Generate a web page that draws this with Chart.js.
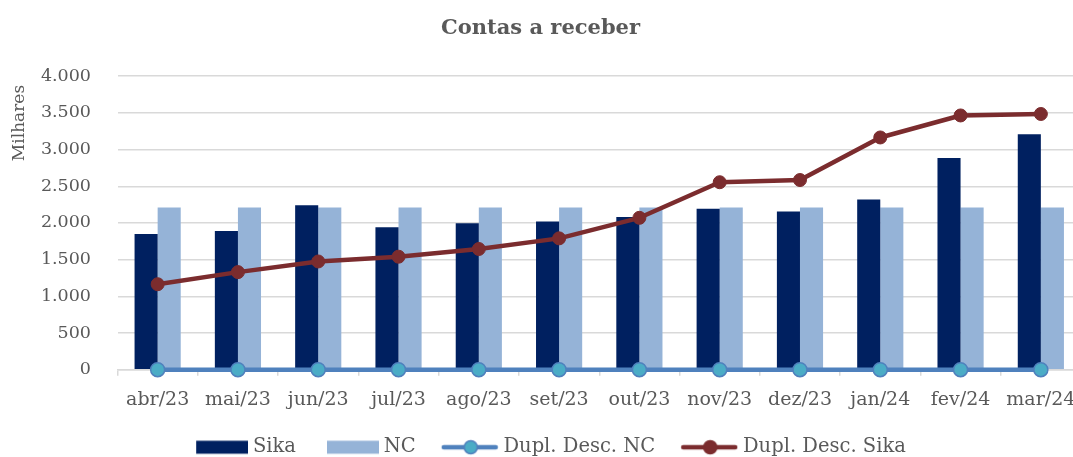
<!DOCTYPE html>
<html><head><meta charset="utf-8">
<script src="https://cdn.jsdelivr.net/npm/chart.js@4.4.1/dist/chart.umd.min.js"></script>
<style>html,body{margin:0;padding:0;overflow:hidden;background:#fff}</style>
</head><body>
<canvas id="c" width="1090" height="457" style="display:block"></canvas>
<script>
const categories = ['abr/23','mai/23','jun/23','jul/23','ago/23','set/23','out/23','nov/23','dez/23','jan/24','fev/24','mar/24'];
const sika = [1850,1890,2240,1940,1995,2020,2080,2195,2155,2320,2885,3210];
const nc = [2210,2210,2210,2210,2210,2210,2210,2210,2210,2210,2210,2210];
const duplDescNC = [0,0,0,0,0,0,0,0,0,0,0,0];
const duplDescSika = [1165,1330,1475,1540,1645,1790,2070,2555,2585,3165,3465,3485];
const yTickValues = [0,500,1000,1500,2000,2500,3000,3500,4000];
const seriesNames = ['Sika','NC','Dupl. Desc. NC','Dupl. Desc. Sika'];

const FONT = '"DejaVu Serif", serif';
const TXT = '#595959';
const C_SIKA = '#002060', C_NC = '#95b3d7', C_LNC = '#4f81bd', C_PNC = '#4bacc6', C_LSIKA = '#7b2c2e';

function fmt(v){ return String(v).replace(/\B(?=(\d{3})+(?!\d))/g,'.'); }

function legendImg(kind, color, fill){
  const W = 78, H = 18;
  const c = document.createElement('canvas'); c.width = W; c.height = H;
  const g = c.getContext('2d');
  if (kind === 'bar') {
    g.fillStyle = color; g.fillRect(W-52, (H-13)/2, 52, 13);
  } else {
    const x0 = W-57;
    g.strokeStyle = color; g.lineWidth = 4.5; g.lineCap = 'round';
    g.beginPath(); g.moveTo(x0+2, H/2); g.lineTo(W-3, H/2); g.stroke();
    g.beginPath(); g.arc(x0+29, H/2, 6.5, 0, Math.PI*2);
    g.fillStyle = fill; g.fill(); g.lineWidth = 1.5; g.strokeStyle = color; g.stroke();
  }
  return c;
}
const legendImgs = [
  legendImg('bar', C_SIKA), legendImg('bar', C_NC),
  legendImg('line', C_LNC, C_PNC), legendImg('line', C_LSIKA, C_LSIKA)
];

const milhares = {
  id: 'milhares',
  afterDraw(chart){
    const ctx = chart.ctx; ctx.save();
    ctx.translate(20, 123); ctx.rotate(-Math.PI/2);
    ctx.font = '17px ' + FONT; ctx.fillStyle = TXT;
    ctx.textAlign = 'center'; ctx.textBaseline = 'middle';
    ctx.fillText('Milhares', 0, 0); ctx.restore();
  }
};

new Chart(document.getElementById('c'), {
  data: {
    labels: categories,
    datasets: [
      { type:'bar', label: seriesNames[0], data: sika, backgroundColor: C_SIKA, order: 2,
        categoryPercentage: 0.575, barPercentage: 1 },
      { type:'bar', label: seriesNames[1], data: nc, backgroundColor: C_NC, order: 2,
        categoryPercentage: 0.575, barPercentage: 1 },
      { type:'line', label: seriesNames[2], data: duplDescNC, borderColor: C_LNC, borderWidth: 4.5,
        pointRadius: 7, pointBackgroundColor: C_PNC, pointBorderColor: C_LNC, pointBorderWidth: 1.5,
        order: 1, clip: false, tension: 0 },
      { type:'line', label: seriesNames[3], data: duplDescSika, borderColor: C_LSIKA, borderWidth: 4.5,
        pointRadius: 6.5, pointBackgroundColor: C_LSIKA, pointBorderColor: C_LSIKA, pointBorderWidth: 1,
        order: 0, clip: false, tension: 0, borderJoinStyle: 'round' }
    ]
  },
  options: {
    responsive: false, animation: false,
    layout: { padding: { left: 0, right: 9, top: 0, bottom: -10 } },
    plugins: {
      title: { display: true, text: 'Contas a receber', color: TXT,
        font: { family: FONT, size: 21, weight: 'bold' }, padding: { top: 16, bottom: 35 } },
      legend: { position: 'bottom',
        labels: { usePointStyle: true, pointStyleWidth: 68, padding: 10, color: TXT,
          font: { family: FONT, size: 19.5 },
          generateLabels: (chart) => chart.data.datasets.map((ds, i) => ({
            text: ds.label, pointStyle: legendImgs[i], fillStyle: 'rgba(0,0,0,0)',
            strokeStyle: 'rgba(0,0,0,0)', lineWidth: 0, hidden: false, datasetIndex: i, fontColor: TXT
          }))
        } },
      tooltip: { enabled: false }
    },
    scales: {
      x: { type: 'category', offset: true,
        afterFit: (s) => { s.height += 3; },
        grid: { display: true, drawOnChartArea: false, drawTicks: true, tickLength: 6, color: '#d9d9d9', lineWidth: 1.5, offset: true },
        border: { display: true, color: '#d9d9d9', width: 1.5 },
        ticks: { color: TXT, font: { family: FONT, size: 19 }, padding: 13, maxRotation: 0, autoSkip: false } },
      y: { min: 0, max: 4000,
        afterBuildTicks: (s) => { s.ticks = yTickValues.map(v => ({ value: v })); },
        afterFit: (s) => { s.width = 117.5; },
        grid: { color: '#d9d9d9', lineWidth: 1.5, drawTicks: false },
        border: { display: false },
        ticks: { color: TXT, font: { family: FONT, size: 17.5 }, padding: 26.5, callback: (v) => fmt(v) } }
    }
  },
  plugins: [milhares]
});
</script>
</body></html>
